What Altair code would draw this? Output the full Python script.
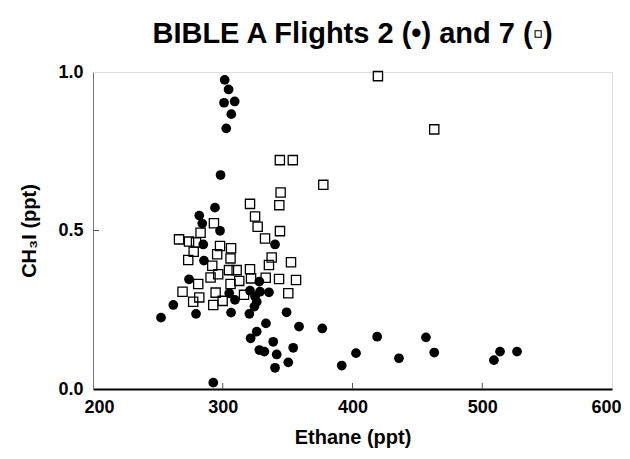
import altair as alt
import pandas as pd

# Flight 2 (filled circles)
f2_ethane = [301.5, 304.5, 301, 309.2, 306.6, 302.7, 298.3, 294, 281.9, 284.2,
             297.9, 285, 285.5, 274, 261.9, 252.4, 279.4, 306.4, 305, 309.4,
             321, 320.5, 321.5, 292.7, 340.3, 328.2, 328.7, 335.6, 324.9, 326.2,
             324.4, 349.2, 333.3, 358.8, 376.7, 326.2, 338.9, 354.3, 328.2, 332.1,
             341.6, 350.5, 340.3, 391.7, 402.7, 419, 456.6, 435.8, 463, 513.7,
             526.8, 509]
f2_ch3i = [0.975, 0.945, 0.903, 0.907, 0.867, 0.822, 0.675, 0.572, 0.547, 0.522,
           0.499, 0.456, 0.405, 0.346, 0.265, 0.225, 0.237, 0.241, 0.302, 0.281,
           0.31, 0.237, 0.160, 0.020, 0.456, 0.339, 0.307, 0.305, 0.292, 0.275,
           0.260, 0.242, 0.207, 0.197, 0.191, 0.181, 0.149, 0.130, 0.123, 0.118,
           0.109, 0.084, 0.067, 0.074, 0.113, 0.165, 0.163, 0.097, 0.115, 0.118,
           0.118, 0.091]

# Flight 7 (open squares)
f7_ethane = [419.6, 463, 344, 354, 377.5, 344.6, 321, 343.6, 324.9, 326.9,
             344.1, 332.6, 337.7, 352.6, 335.6, 321, 321.8, 333.1, 343.4, 356.5,
             316.4, 350.5, 293.2, 282.9, 266.3, 274, 279.4, 297.9, 277.6, 306.4,
             295.7, 306, 273.4, 291.9, 304.8, 310.7, 296.5, 290.6, 312.7, 306,
             281.1, 269, 294.5, 281.9, 277.2, 299.9, 292.7]
f7_ch3i = [0.987, 0.819, 0.722, 0.722, 0.644, 0.62, 0.584, 0.580, 0.544, 0.512,
           0.498, 0.475, 0.415, 0.400, 0.391, 0.378, 0.349, 0.351, 0.347, 0.344,
           0.297, 0.302, 0.523, 0.493, 0.472, 0.465, 0.462, 0.451, 0.433, 0.444,
           0.425, 0.412, 0.407, 0.389, 0.375, 0.375, 0.362, 0.352, 0.341, 0.331,
           0.331, 0.307, 0.304, 0.289, 0.275, 0.278, 0.265]

x_ticks = [300, 400, 500]
y_ticks = [0.5]

FONT = "Liberation Sans"
W, H = 519, 317

df2 = pd.DataFrame({"ethane": f2_ethane, "ch3i": f2_ch3i})
df7 = pd.DataFrame({"ethane": f7_ethane, "ch3i": f7_ch3i})

xs = alt.Scale(domain=[200, 600], nice=False, zero=False)
ys = alt.Scale(domain=[0, 1], nice=False)

xax = alt.Axis(values=[200, 300, 400, 500, 600], title="Ethane (ppt)", ticks=False,
               grid=False, labelFontSize=18, labelFontWeight="bold", labelFont=FONT,
               labelPadding=9, labelFlush=True, labelFlushOffset=9,
               titleFontSize=20, titleFontWeight="bold",
               titleFont=FONT, titlePadding=11, domainColor="black", domainWidth=2,
               labelColor="black", titleColor="black")
yax = alt.Axis(values=[0, 0.5, 1.0], format=".1f", title="CH₃I (ppt)", ticks=False,
               grid=False, labelFontSize=18, labelFontWeight="bold", labelFont=FONT,
               labelPadding=10, labelFlush=False, titleFontSize=20, titleFontWeight="bold",
               titleFont=FONT, titlePadding=18, domainColor="#777", domainWidth=1,
               labelColor="black", titleColor="black")

circles = alt.Chart(df2).mark_circle(color="black", opacity=1, size=95).encode(
    x=alt.X("ethane:Q", scale=xs, axis=xax),
    y=alt.Y("ch3i:Q", scale=ys, axis=yax),
)
squares = alt.Chart(df7).mark_point(shape="square", filled=False, color="black",
                                    strokeWidth=1.3, size=85, opacity=1).encode(
    x=alt.X("ethane:Q", scale=xs),
    y=alt.Y("ch3i:Q", scale=ys),
)
xt = alt.Chart(pd.DataFrame({"t": x_ticks})).mark_rule(color="#555", strokeWidth=1).encode(
    x=alt.X("t:Q", scale=xs), y=alt.value(H), y2=alt.value(H - 6))
yt = alt.Chart(pd.DataFrame({"t": y_ticks})).mark_rule(color="#555", strokeWidth=1).encode(
    y=alt.Y("t:Q", scale=ys), x=alt.value(0), x2=alt.value(6))

chart = alt.layer(xt, yt, circles, squares).properties(
    width=W, height=H,
    title=alt.TitleParams("BIBLE A Flights 2 (•) and 7 (▫)", fontSize=29, fontWeight="bold",
                          font=FONT, anchor="middle", offset=14, color="black"),
    autosize=alt.AutoSizeParams(type="none"),
    padding={"left": 85, "top": 64, "right": 10, "bottom": 62},
).configure_view(stroke="#222", strokeWidth=1.2).configure(background="white")

chart.save("out.html", embed_options={"renderer": "svg", "actions": False})
